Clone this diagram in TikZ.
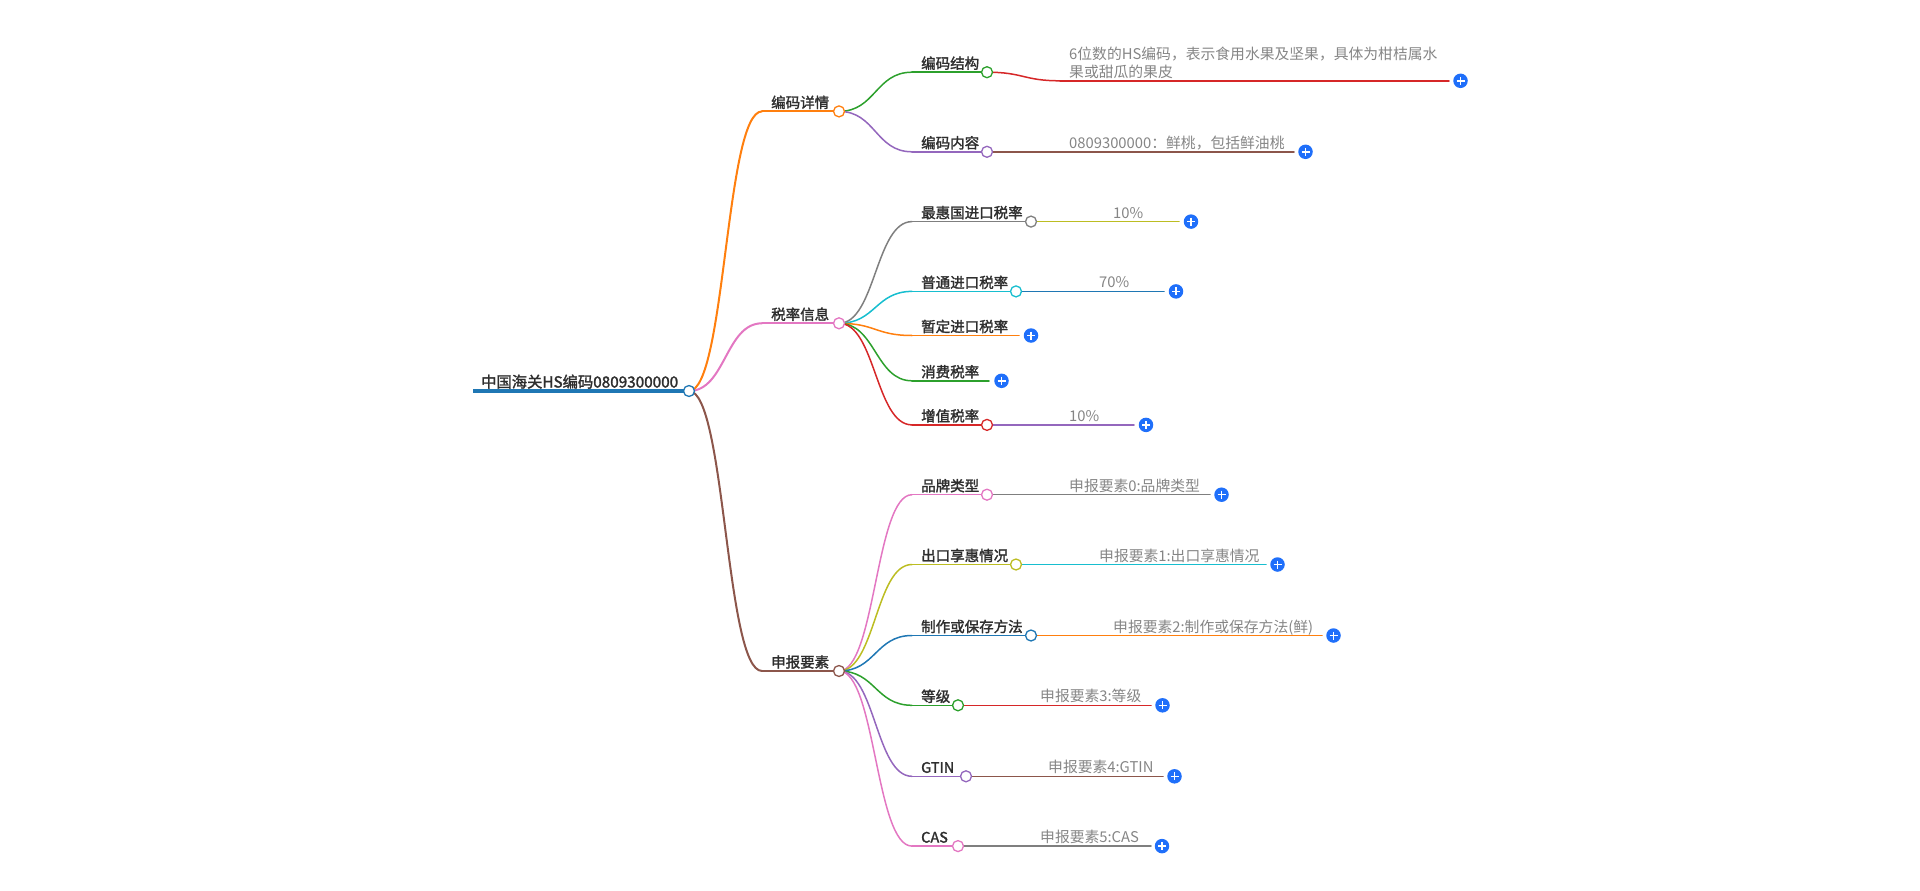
\documentclass[tikz,border=0pt]{standalone}
\usepackage{fontspec}
\setmainfont{Noto Sans CJK SC}
\newfontfamily\medfont{Noto Sans CJK SC}[FakeBold=1.8]
\usetikzlibrary{calc}
\definecolor{cblue}{HTML}{1F77B4}
\definecolor{corange}{HTML}{FF7F0E}
\definecolor{cgreen}{HTML}{2CA02C}
\definecolor{cred}{HTML}{D62728}
\definecolor{cpurple}{HTML}{9467BD}
\definecolor{cbrown}{HTML}{8C564B}
\definecolor{cpink}{HTML}{E377C2}
\definecolor{cgray}{HTML}{7F7F7F}
\definecolor{colive}{HTML}{BCBD22}
\definecolor{ccyan}{HTML}{17BECF}
\definecolor{plusblue}{HTML}{1F6FFA}
\definecolor{labelc}{HTML}{2E2E2E}
\definecolor{valc}{HTML}{858585}
\tikzset{
  lnk/.style={line width=1.5pt, line cap=round},
  dot/.style={circle, draw, fill=white, line width=1.3pt, minimum size=11pt, inner sep=0pt},
  plusbtn/.style={circle, fill=plusblue, minimum size=14.5pt, inner sep=0pt,
    path picture={\draw[white,line width=1.5pt]
      ($(path picture bounding box.center)+(-4,0)$) -- ($(path picture bounding box.center)+(4,0)$)
      ($(path picture bounding box.center)+(0,-4)$) -- ($(path picture bounding box.center)+(0,4)$);}},
  lbl/.style={anchor=base west, inner sep=0pt, text=labelc, font=\medfont\fontsize{14.5}{17}\selectfont},
  rootlbl/.style={anchor=base west, inner sep=0pt, text=labelc, font=\medfont\fontsize{15.3}{18}\selectfont},
  val/.style={anchor=base west, inner sep=0pt, text=valc, font=\fontsize{14.8}{18}\selectfont},
}
\newcommand\mlink[3]{%
  \path (#2) -- coordinate[pos=.5] (m-#3) (#3);
  \draw[lnk,#1] (#2) .. controls (#2 -| m-#3) and (#3 -| m-#3) .. (#3);}
\begin{document}
\begin{tikzpicture}[x=1pt,y=-1pt]
\useasboundingbox (0,0) rectangle (1920,891);
% ---------- coordinates ----------
\coordinate (root-s) at (473,391);   \coordinate (root-c) at (689,391);
\coordinate (bm-s) at (762,111.4);   \coordinate (bm-c) at (839,111.4);
\coordinate (sl-s) at (762,323.3);   \coordinate (sl-c) at (839,323.3);
\coordinate (sb-s) at (762,671);     \coordinate (sb-c) at (839,671);
% under bm
\coordinate (jg-s) at (912,72.2);    \coordinate (jg-c) at (987,72.2);
\coordinate (jgv-s) at (1060,80.8);  \coordinate (jgv-e) at (1449,80.8);
\coordinate (nr-s) at (912,151.8);   \coordinate (nr-c) at (987,151.8);
\coordinate (nrv-s) at (1060,151.8); \coordinate (nrv-e) at (1294,151.8);
% under sl
\coordinate (zh-s) at (912,221.6);   \coordinate (zh-c) at (1031,221.6);
\coordinate (zhv-s) at (1104,221.6); \coordinate (zhv-e) at (1179,221.6);
\coordinate (pt-s) at (912,291.4);   \coordinate (pt-c) at (1016,291.4);
\coordinate (ptv-s) at (1090,291.4); \coordinate (ptv-e) at (1164,291.4);
\coordinate (zd-s) at (912,335.5);   \coordinate (zd-e) at (1019,335.5);
\coordinate (xf-s) at (912,380.8);   \coordinate (xf-e) at (989,380.8);
\coordinate (zz-s) at (912,424.9);   \coordinate (zz-c) at (987,424.9);
\coordinate (zzv-s) at (1060,424.9); \coordinate (zzv-e) at (1134,424.9);
% under sb
\coordinate (pp-s) at (912,494.7);   \coordinate (pp-c) at (987,494.7);
\coordinate (ppv-s) at (1060,494.7); \coordinate (ppv-e) at (1210,494.7);
\coordinate (ck-s) at (912,564.5);   \coordinate (ck-c) at (1016,564.5);
\coordinate (ckv-s) at (1090,564.5); \coordinate (ckv-e) at (1266,564.5);
\coordinate (zf-s) at (912,635.5);   \coordinate (zf-c) at (1031,635.5);
\coordinate (zfv-s) at (1104,635.5); \coordinate (zfv-e) at (1322,635.5);
\coordinate (dj-s) at (912,705.3);   \coordinate (dj-c) at (958,705.3);
\coordinate (djv-s) at (1031,705.3); \coordinate (djv-e) at (1151,705.3);
\coordinate (gt-s) at (912,776.3);   \coordinate (gt-c) at (966,776.3);
\coordinate (gtv-s) at (1039,776.3); \coordinate (gtv-e) at (1163,776.3);
\coordinate (cs-s) at (912,846.1);   \coordinate (cs-c) at (958,846.1);
\coordinate (csv-s) at (1031,846.1); \coordinate (csv-e) at (1151,846.1);
% ---------- links and underlines ----------
\draw[cblue, line width=3.5pt] (root-s) -- (root-c);
\mlink{corange,line width=2pt}{root-c}{bm-s} \draw[lnk,corange,line width=2pt] (bm-s) -- (bm-c);
\mlink{cpink,line width=2pt}{root-c}{sl-s}   \draw[lnk,cpink,line width=2pt] (sl-s) -- (sl-c);
\mlink{cbrown,line width=2pt}{root-c}{sb-s}  \draw[lnk,cbrown,line width=2pt] (sb-s) -- (sb-c);
\mlink{cgreen}{bm-c}{jg-s}   \draw[lnk,cgreen] (jg-s) -- (jg-c);
\mlink{cred}{jg-c}{jgv-s}    \draw[lnk,cred] (jgv-s) -- (jgv-e);
\mlink{cpurple}{bm-c}{nr-s}  \draw[lnk,cpurple] (nr-s) -- (nr-c);
\mlink{cbrown}{nr-c}{nrv-s}  \draw[lnk,cbrown] (nrv-s) -- (nrv-e);
\mlink{cgray}{sl-c}{zh-s}    \draw[lnk,cgray] (zh-s) -- (zh-c);
\mlink{colive}{zh-c}{zhv-s}  \draw[lnk,colive] (zhv-s) -- (zhv-e);
\mlink{ccyan}{sl-c}{pt-s}    \draw[lnk,ccyan] (pt-s) -- (pt-c);
\mlink{cblue}{pt-c}{ptv-s}   \draw[lnk,cblue] (ptv-s) -- (ptv-e);
\mlink{corange}{sl-c}{zd-s}  \draw[lnk,corange] (zd-s) -- (zd-e);
\mlink{cgreen}{sl-c}{xf-s}   \draw[lnk,cgreen] (xf-s) -- (xf-e);
\mlink{cred}{sl-c}{zz-s}     \draw[lnk,cred] (zz-s) -- (zz-c);
\mlink{cpurple}{zz-c}{zzv-s} \draw[lnk,cpurple] (zzv-s) -- (zzv-e);
\mlink{cpink}{sb-c}{pp-s}    \draw[lnk,cpink] (pp-s) -- (pp-c);
\mlink{cgray}{pp-c}{ppv-s}   \draw[lnk,cgray] (ppv-s) -- (ppv-e);
\mlink{colive}{sb-c}{ck-s}   \draw[lnk,colive] (ck-s) -- (ck-c);
\mlink{ccyan}{ck-c}{ckv-s}   \draw[lnk,ccyan] (ckv-s) -- (ckv-e);
\mlink{cblue}{sb-c}{zf-s}    \draw[lnk,cblue] (zf-s) -- (zf-c);
\mlink{corange}{zf-c}{zfv-s} \draw[lnk,corange] (zfv-s) -- (zfv-e);
\mlink{cgreen}{sb-c}{dj-s}   \draw[lnk,cgreen] (dj-s) -- (dj-c);
\mlink{cred}{dj-c}{djv-s}    \draw[lnk,cred] (djv-s) -- (djv-e);
\mlink{cpurple}{sb-c}{gt-s}  \draw[lnk,cpurple] (gt-s) -- (gt-c);
\mlink{cbrown}{gt-c}{gtv-s}  \draw[lnk,cbrown] (gtv-s) -- (gtv-e);
\mlink{cpink}{sb-c}{cs-s}    \draw[lnk,cpink] (cs-s) -- (cs-c);
\mlink{cgray}{cs-c}{csv-s}   \draw[lnk,cgray] (csv-s) -- (csv-e);
% ---------- circles ----------
\node[dot,draw=cblue] (root-dot) at (root-c) {};
\node[dot,draw=corange] (bm-dot) at (bm-c) {};
\node[dot,draw=cpink] (sl-dot) at (sl-c) {};
\node[dot,draw=cbrown] (sb-dot) at (sb-c) {};
\node[dot,draw=cgreen] (jg-dot) at (jg-c) {};
\node[dot,draw=cpurple] (nr-dot) at (nr-c) {};
\node[dot,draw=cgray] (zh-dot) at (zh-c) {};
\node[dot,draw=ccyan] (pt-dot) at (pt-c) {};
\node[dot,draw=cred] (zz-dot) at (zz-c) {};
\node[dot,draw=cpink] (pp-dot) at (pp-c) {};
\node[dot,draw=colive] (ck-dot) at (ck-c) {};
\node[dot,draw=cblue] (zf-dot) at (zf-c) {};
\node[dot,draw=cgreen] (dj-dot) at (dj-c) {};
\node[dot,draw=cpurple] (gt-dot) at (gt-c) {};
\node[dot,draw=cpink] (cs-dot) at (cs-c) {};
% ---------- plus buttons ----------
\node[plusbtn] (jgv-p) at ($(jgv-e)+(11.5,0)$) {};
\node[plusbtn] (nrv-p) at ($(nrv-e)+(11.5,0)$) {};
\node[plusbtn] (zhv-p) at ($(zhv-e)+(12,0)$) {};
\node[plusbtn] (ptv-p) at ($(ptv-e)+(12,0)$) {};
\node[plusbtn] (zd-p) at ($(zd-e)+(12,0)$) {};
\node[plusbtn] (xf-p) at ($(xf-e)+(12.5,0)$) {};
\node[plusbtn] (zzv-p) at ($(zzv-e)+(12,0)$) {};
\node[plusbtn] (ppv-p) at ($(ppv-e)+(11.5,0)$) {};
\node[plusbtn] (ckv-p) at ($(ckv-e)+(11.5,0)$) {};
\node[plusbtn] (zfv-p) at ($(zfv-e)+(11.5,0)$) {};
\node[plusbtn] (djv-p) at ($(djv-e)+(11.5,0)$) {};
\node[plusbtn] (gtv-p) at ($(gtv-e)+(11.5,0)$) {};
\node[plusbtn] (csv-p) at ($(csv-e)+(11,0)$) {};
% ---------- texts ----------
\node[rootlbl] (root-t) at ($(root-s)+(8,-3.5)$) {中国海关HS编码0809300000};
\node[lbl] (bm-t) at ($(bm-s)+(9,-3.5)$) {编码详情};
\node[lbl] (sl-t) at ($(sl-s)+(9,-3.5)$) {税率信息};
\node[lbl] (sb-t) at ($(sb-s)+(9,-3.5)$) {申报要素};
\node[lbl] (jg-t) at ($(jg-s)+(9,-3.5)$) {编码结构};
\node[lbl] (nr-t) at ($(nr-s)+(9,-3.5)$) {编码内容};
\node[lbl] (zh-t) at ($(zh-s)+(9,-3.5)$) {最惠国进口税率};
\node[lbl] (pt-t) at ($(pt-s)+(9,-3.5)$) {普通进口税率};
\node[lbl] (zd-t) at ($(zd-s)+(9,-3.5)$) {暂定进口税率};
\node[lbl] (xf-t) at ($(xf-s)+(9,-3.5)$) {消费税率};
\node[lbl] (zz-t) at ($(zz-s)+(9,-3.5)$) {增值税率};
\node[lbl] (pp-t) at ($(pp-s)+(9,-3.5)$) {品牌类型};
\node[lbl] (ck-t) at ($(ck-s)+(9,-3.5)$) {出口享惠情况};
\node[lbl] (zf-t) at ($(zf-s)+(9,-3.5)$) {制作或保存方法};
\node[lbl] (dj-t) at ($(dj-s)+(9,-3.5)$) {等级};
\node[lbl] (gt-t) at ($(gt-s)+(9,-3.5)$) {GTIN};
\node[lbl] (cs-t) at ($(cs-s)+(9,-3.5)$) {CAS};
\node[val, anchor=south west, align=left] (jgv-t) at ($(jgv-s)+(9,-1.8)$) {6位数的HS编码，表示食用水果及坚果，具体为柑桔属水\\果或甜瓜的果皮};
\node[val] (nrv-t) at ($(nrv-s)+(9,-3.5)$) {0809300000：鲜桃，包括鲜油桃};
\node[val] (zhv-t) at ($(zhv-s)+(9,-3.5)$) {10\%};
\node[val] (ptv-t) at ($(ptv-s)+(9,-3.5)$) {70\%};
\node[val] (zzv-t) at ($(zzv-s)+(9,-3.5)$) {10\%};
\node[val] (ppv-t) at ($(ppv-s)+(9,-3.5)$) {申报要素0:品牌类型};
\node[val] (ckv-t) at ($(ckv-s)+(9,-3.5)$) {申报要素1:出口享惠情况};
\node[val] (zfv-t) at ($(zfv-s)+(9,-3.5)$) {申报要素2:制作或保存方法(鲜)};
\node[val] (djv-t) at ($(djv-s)+(9,-3.5)$) {申报要素3:等级};
\node[val] (gtv-t) at ($(gtv-s)+(9,-3.5)$) {申报要素4:GTIN};
\node[val] (csv-t) at ($(csv-s)+(9,-3.5)$) {申报要素5:CAS};
\end{tikzpicture}
\end{document}
